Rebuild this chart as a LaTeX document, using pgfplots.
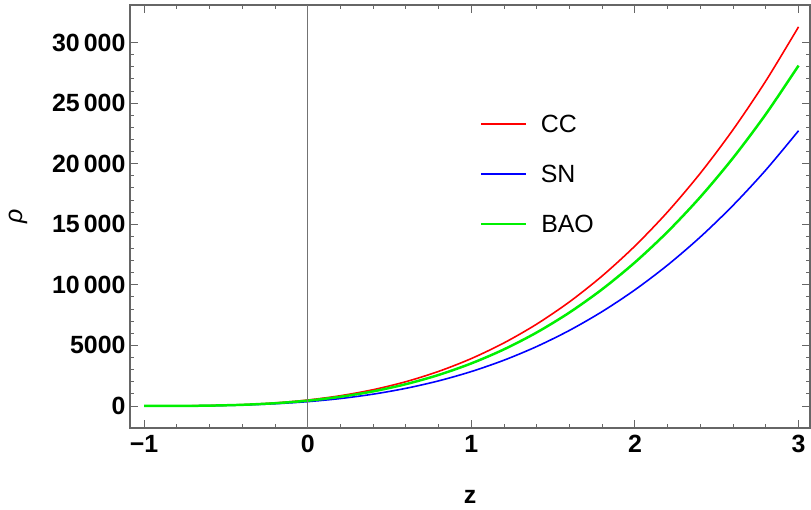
\documentclass[border=0pt]{standalone}
\usepackage{pgfplots}
\pgfplotsset{compat=1.18}
\usepackage{fontspec}
\setmainfont{Liberation Sans}
\definecolor{mgreen}{RGB}{0,240,0}
\definecolor{mred}{RGB}{255,0,0}
\definecolor{mblue}{RGB}{0,0,255}
\begin{document}
\begin{tikzpicture}
\begin{axis}[
  name=ax,
  scale only axis,
  width=680bp, height=423bp,
  xmin=-1.086, xmax=3.07,
  ymin=-1820, ymax=33100,
  scaled y ticks=false, scaled x ticks=false,
  axis line style={black!60, line width=1.2pt},
  tick style={black!60, line width=0.9pt},
  tick align=inside,
  major tick length=8bp,
  minor tick length=4.5bp,
  xtick={-1,0,1,2,3},
  xticklabels={\char"2212 1,0,1,2,3},
  minor x tick num=4,
  ytick={0,5000,10000,15000,20000,25000,30000},
  yticklabels={0,5000,10\,000,15\,000,20\,000,25\,000,30\,000},
  minor y tick num=4,
  tick label style={font=\fontsize{25}{25}\selectfont\bfseries, black},
  yticklabel style={xshift=-1bp},
  xticklabel style={yshift=-4bp},
  xlabel={\textbf{z}},
  ylabel={\textit{ρ}},
  label style={font=\fontsize{25}{25}\selectfont},
  xlabel style={yshift=-30bp},
  ylabel style={yshift=18bp},
]
\addplot[mred, line width=1.6pt, smooth] coordinates {
(-1,0) (-0.8,3.9) (-0.6,31.3) (-0.4,105.6) (-0.2,250.4) (0,489) (0.2,845.0) (0.4,1341.8) (0.6,2002.9) (0.8,2851.8) (1,3912) (1.2,5206.9) (1.4,6759.9) (1.6,8594.7) (1.8,10734.5) (2,13203) (2.2,16023.6) (2.4,19219.7) (2.6,22814.8) (2.8,26832.4) (3,31296)};
\addplot[mblue, line width=1.6pt, smooth] coordinates {
(-1,0) (-0.8,2.8) (-0.6,22.7) (-0.4,76.7) (-0.2,181.8) (0,355) (0.2,613.4) (0.4,974.1) (0.6,1454.1) (0.8,2070.4) (1,2840) (1.2,3780.0) (1.4,4907.5) (1.6,6239.5) (1.8,7793.0) (2,9585) (2.2,11632.6) (2.4,13953.0) (2.6,16562.9) (2.8,19479.6) (3,22720)};
\addplot[mgreen, line width=2.5pt, smooth] coordinates {
(-1,0) (-0.8,3.5) (-0.6,28.1) (-0.4,94.8) (-0.2,224.8) (0,439) (0.2,758.6) (0.4,1204.6) (0.6,1798.1) (0.8,2560.2) (1,3512) (1.2,4674.5) (1.4,6068.7) (1.6,7715.9) (1.8,9636.9) (2,11853) (2.2,14385.2) (2.4,17254.5) (2.6,20482.0) (2.8,24088.8) (3,28096)};
\addplot[black!55, line width=0.9pt, forget plot] coordinates {(0,-1820) (0,33100)};
\end{axis}
% legend
\begin{scope}[font=\fontsize{25}{25}\selectfont]
\draw[mred, line width=1.6pt] ([shift={(351bp,-119bp)}]ax.north west) -- ++(45bp,0bp) node[black, anchor=west, inner sep=0pt, xshift=14bp] {CC};
\draw[mblue, line width=1.6pt] ([shift={(351bp,-169bp)}]ax.north west) -- ++(45bp,0bp) node[black, anchor=west, inner sep=0pt, xshift=14bp] {SN};
\draw[mgreen, line width=2.5pt] ([shift={(351bp,-219bp)}]ax.north west) -- ++(45bp,0bp) node[black, anchor=west, inner sep=0pt, xshift=14bp] {BAO};
\end{scope}
\pgfresetboundingbox
\path (ax.south west) ++(-130bp,-82bp) rectangle ([shift={(1bp,5bp)}]ax.north east);
\end{tikzpicture}
\end{document}
